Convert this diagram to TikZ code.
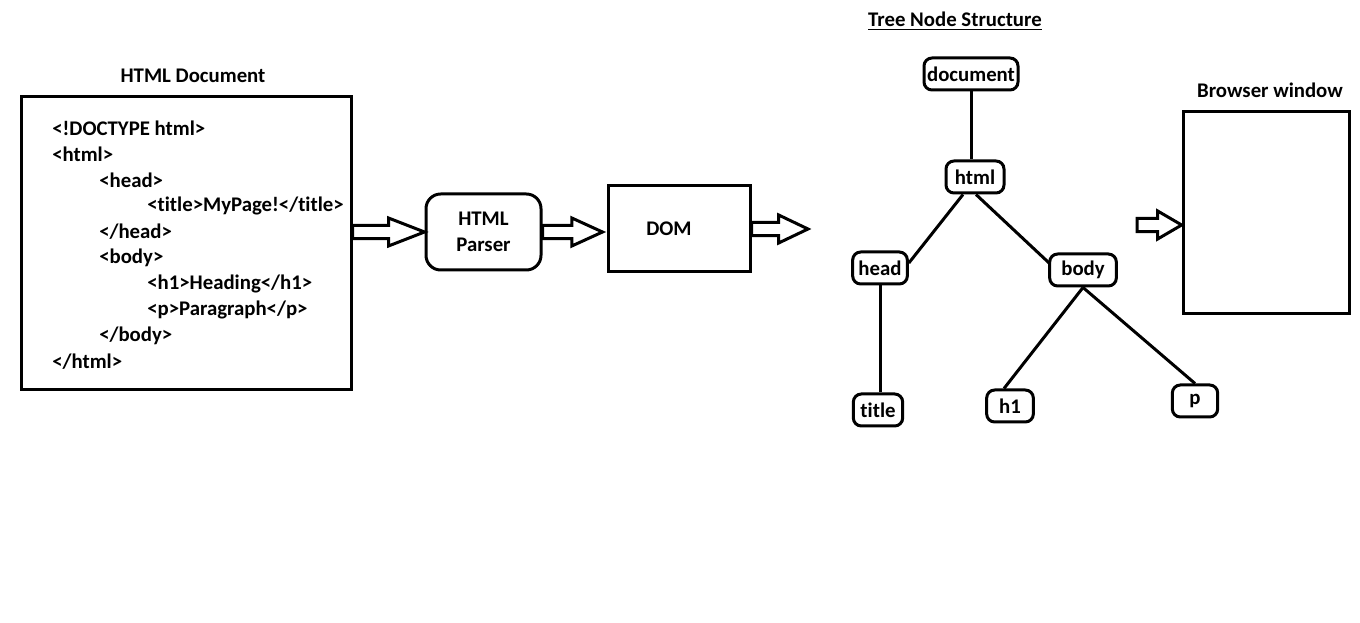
\documentclass[tikz,border=0pt]{standalone}
\usepackage{fontspec}
\setmainfont{Carlito}[Ligatures=NoCommon]
\usetikzlibrary{calc}

% hollow block arrow: [head length]{from}{to}
\newcommand{\fatarrow}[3][22pt]{%
  \draw[blockarrow] let \p1=(#2), \p2=(#3) in
    (\x1,\y1+5pt) -- (\x2-#1,\y1+5pt) -- (\x2-#1,\y1+10.5pt) -- (\x2,\y1)
    -- (\x2-#1,\y1-10.5pt) -- (\x2-#1,\y1-5pt) -- (\x1,\y1-5pt) -- cycle;}

\begin{document}
\begin{tikzpicture}[
  x=0.75pt, y=-0.75pt,
  every node/.style={font=\bfseries\fontsize{15.6}{19.5}\selectfont},
  box/.style={draw, line width=2.25pt, inner sep=0pt},
  codeline/.style={anchor=west, inner sep=0pt},
  treenode/.style={draw, line width=2.25pt, rounded corners=6pt, minimum height=24pt, inner sep=2pt},
  edge/.style={line width=2.25pt},
  blockarrow/.style={draw, line width=2.25pt, line join=miter, fill=white}
]
\useasboundingbox (0,0) rectangle (1360,623);

% HTML document
\node (doctitle) at (193,76) {HTML Document};
\node[box, minimum width=247.5pt, minimum height=219.75pt] (htmldoc) at (186,243.5) {};
\node[codeline] (code1) at (52,128) {<!DOCTYPE html>};
\node[codeline] (code2) at (52,154) {<html>};
\node[codeline] (code3) at (99,180) {<head>};
\node[codeline] (code4) at (147,206) {<title>MyPage!</title>};
\node[codeline] (code5) at (99,232) {</head>};
\node[codeline] (code6) at (99,258) {<body>};
\node[codeline] (code7) at (147,284) {<h1>Heading</h1>};
\node[codeline] (code8) at (147,310) {<p>Paragraph</p>};
\node[codeline] (code9) at (99,336) {</body>};
\node[codeline] (code10) at (52,362) {</html>};

% parser and DOM
\node[box, rounded corners=11pt, minimum width=86.25pt, minimum height=57pt, align=center] (parser) at (483.5,232) {HTML\\Parser};
\node[box, minimum width=106.5pt, minimum height=64.5pt] (dom) at (679,229) {DOM\kern15pt};

% tree
\node (treetitle) at (955,21) {\underline{Tree Node Structure}};
\node[treenode, minimum width=70.5pt] (document) at (971,74) {document};
\node[treenode, minimum width=43.5pt] (html) at (975,177) {html};
\node[treenode, minimum width=41pt] (head) at (880,268) {head};
\node[treenode, minimum width=50pt] (body) at (1083,270) {body};
\node[treenode, minimum width=37pt] (title) at (878,410) {title};
\node[treenode, minimum width=35pt] (h1) at (1010,406) {h1};
\node[treenode, minimum width=34pt] (p) at (1195,401) {p};

\draw[edge] (document.south) -- (document.south |- html.north);
\draw[edge] ($(html.south)+(-12,0)$) -- ($(head.east)+(0,-5)$);
\draw[edge] ($(html.south)+(1,0)$) -- ($(body.west)+(2,-6)$);
\draw[edge] (head.south) -- (head.south |- title.north);
\draw[edge] (body.south) -- ($(h1.north)+(-6,0)$);
\draw[edge] (body.south) -- (p.north);

% browser
\node (wintitle) at (1270,90) {Browser window};
\node[box, minimum width=125pt, minimum height=151pt] (browser) at (1266.5,212.5) {};

% arrows
\path (dom.west |- parser.east) ++(-4,0) coordinate (domin);
\coordinate (treein) at (808,230);
\coordinate (winout) at (1137,225);
\fatarrow[27pt]{htmldoc.east |- parser.west}{parser.west}
\fatarrow[23pt]{parser.east}{domin}
\fatarrow[22pt]{dom.east}{treein}
\fatarrow[18pt]{winout}{browser.west |- winout}
\end{tikzpicture}
\end{document}
